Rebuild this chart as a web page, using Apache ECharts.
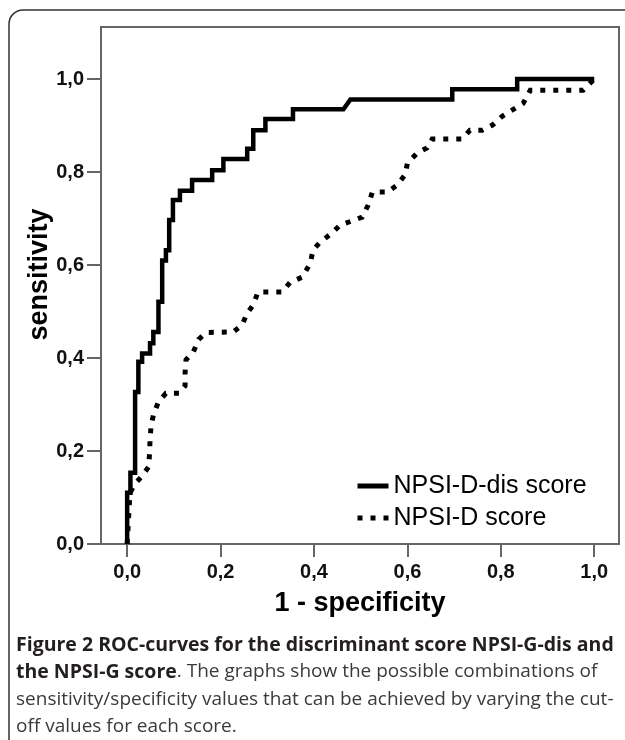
<!DOCTYPE html>
<html>
<head>
<meta charset="utf-8">
<script src="https://cdn.jsdelivr.net/npm/echarts@6.0.0/dist/echarts.min.js"></script>
<style>
html, body { margin: 0; padding: 0; background: #fff; }
#chart { width: 625px; height: 740px; }
</style>
</head>
<body>
<div id="chart"></div>
<script>
// series names (legend)
var seriesNames = ['NPSI-D-dis score', 'NPSI-D score'];

// NPSI-D-dis score: 1 - specificity / sensitivity
var disFpr = [0, 0, 0.007, 0.007, 0.017, 0.017, 0.024, 0.024, 0.032, 0.032, 0.049, 0.049, 0.056, 0.056,
    0.067, 0.067, 0.075, 0.075, 0.083, 0.083, 0.09, 0.09, 0.098, 0.098, 0.113, 0.113, 0.139, 0.139,
    0.182, 0.182, 0.206, 0.206, 0.257, 0.257, 0.27, 0.27, 0.296, 0.296, 0.355, 0.355, 0.463, 0.478,
    0.696, 0.696, 0.835, 0.835, 1.0];
var disTpr = [0, 0.11, 0.11, 0.153, 0.153, 0.327, 0.327, 0.392, 0.392, 0.41, 0.41, 0.432, 0.432, 0.456,
    0.456, 0.521, 0.521, 0.61, 0.61, 0.632, 0.632, 0.697, 0.697, 0.74, 0.74, 0.76, 0.76, 0.783,
    0.783, 0.804, 0.804, 0.828, 0.828, 0.85, 0.85, 0.89, 0.89, 0.914, 0.914, 0.935, 0.935, 0.956,
    0.956, 0.978, 0.978, 1.0, 1.0];

// NPSI-D score
var scoreFpr = [0, 0.006, 0.017, 0.031, 0.046, 0.048, 0.049, 0.051, 0.056, 0.067, 0.083, 0.111, 0.124,
    0.124, 0.126, 0.142, 0.153, 0.169, 0.227, 0.246, 0.257, 0.27, 0.28, 0.332, 0.349, 0.375, 0.392,
    0.398, 0.413, 0.439, 0.456, 0.482, 0.503, 0.516, 0.525, 0.557, 0.578, 0.595, 0.6, 0.621, 0.642,
    0.653, 0.717, 0.734, 0.76, 0.782, 0.803, 0.824, 0.848, 0.863, 0.976, 1.0];
var scoreTpr = [0, 0.11, 0.13, 0.145, 0.166, 0.196, 0.224, 0.252, 0.277, 0.306, 0.324, 0.324, 0.34,
    0.368, 0.396, 0.414, 0.44, 0.455, 0.456, 0.471, 0.497, 0.514, 0.542, 0.542, 0.563, 0.574, 0.604,
    0.632, 0.649, 0.669, 0.686, 0.695, 0.703, 0.729, 0.757, 0.757, 0.772, 0.794, 0.819, 0.841, 0.852,
    0.871, 0.871, 0.89, 0.89, 0.901, 0.92, 0.933, 0.948, 0.976, 0.976, 1.0];

// tick labels
var tickValues = [0, 0.2, 0.4, 0.6, 0.8, 1.0];

function pairs(xs, ys) {
    return xs.map(function (x, i) { return [x, ys[i]]; });
}
function fmtTick(v) {
    return v.toFixed(1).replace('.', ',');
}

var axisFont = '"Liberation Sans", Arial, sans-serif';
var capFont = '"Open Sans", "Noto Sans", sans-serif';
var dotDash = [5, 8];

var chart = echarts.init(document.getElementById('chart'));
chart.setOption({
    animation: false,
    backgroundColor: '#fff',
    grid: {
        left: 101, top: 27, right: 6, bottom: 196,
        show: true, borderColor: '#666', borderWidth: 2
    },
    xAxis: {
        type: 'value', min: -0.056, max: 1.053,
        name: '1 - specificity', nameLocation: 'middle', nameGap: 46,
        nameTextStyle: { fontFamily: axisFont, fontWeight: 'bold', fontSize: 27, color: '#000' },
        axisLine: { show: true, onZero: false, lineStyle: { color: '#666', width: 2 } },
        axisTick: { show: true, length: 13, customValues: tickValues, lineStyle: { color: '#666', width: 2 } },
        axisLabel: {
            customValues: tickValues, margin: 18, formatter: fmtTick,
            fontFamily: axisFont, fontWeight: 'bold', fontSize: 20, color: '#111'
        },
        splitLine: { show: false }
    },
    yAxis: {
        type: 'value', min: 0, max: 1.112,
        name: 'sensitivity', nameLocation: 'middle', nameGap: 48, nameRotate: 90,
        nameMoveOverlap: false,
        nameTextStyle: {
            fontFamily: axisFont, fontWeight: 'bold', fontSize: 27, color: '#000',
            padding: [0, 0, 0, 22]
        },
        axisLine: { show: true, onZero: false, lineStyle: { color: '#666', width: 2 } },
        axisTick: { show: true, length: 14, customValues: tickValues, lineStyle: { color: '#666', width: 2 } },
        axisLabel: {
            customValues: tickValues, margin: 17, formatter: fmtTick,
            fontFamily: axisFont, fontWeight: 'bold', fontSize: 20, color: '#111'
        },
        splitLine: { show: false }
    },
    legend: {
        orient: 'vertical', left: 350, top: 468,
        itemWidth: 31, itemHeight: 14, itemGap: 6,
        itemStyle: { opacity: 0 },
        textStyle: { fontFamily: axisFont, fontSize: 25, color: '#000', lineHeight: 26 },
        data: [
            { name: seriesNames[0], lineStyle: { type: 'solid', width: 5, color: '#000' } },
            { name: seriesNames[1], lineStyle: { type: dotDash, width: 5, color: '#000' } }
        ]
    },
    series: [{
        name: seriesNames[1],
        type: 'line',
        symbol: 'none',
        data: pairs(scoreFpr, scoreTpr),
        itemStyle: { color: '#000' },
        lineStyle: { color: '#000', width: 5, type: dotDash, cap: 'butt', join: 'miter' }
    }, {
        name: seriesNames[0],
        type: 'line',
        symbol: 'none',
        data: pairs(disFpr, disTpr),
        itemStyle: { color: '#000' },
        lineStyle: { color: '#000', width: 4.5, type: 'solid', cap: 'butt', join: 'miter' }
    }],
    graphic: [
        {   // outer figure frame
            type: 'rect', silent: true,
            shape: { x: 9, y: 10, width: 720, height: 800, r: 14 },
            style: { fill: null, stroke: '#333', lineWidth: 1.5 }
        },
        {
            type: 'text', x: 16, y: 645,
            style: {
                text: 'Figure 2 ROC-curves for the discriminant score NPSI-G-dis and',
                font: 'bold 19.5px ' + capFont, fill: '#231f20', verticalAlign: 'middle'
            }
        },
        {
            type: 'text', x: 16, y: 672,
            style: {
                text: '{b|the NPSI-G score}{n|. The graphs show the possible combinations of}',
                verticalAlign: 'middle',
                rich: {
                    b: { fontFamily: capFont, fontWeight: 'bold', fontSize: 19.5, fill: '#231f20' },
                    n: { fontFamily: capFont, fontSize: 19, fill: '#3a3a3a' }
                }
            }
        },
        {
            type: 'text', x: 16, y: 700,
            style: {
                text: 'sensitivity/specificity values that can be achieved by varying the cut-',
                font: '19px ' + capFont, fill: '#3a3a3a', verticalAlign: 'middle'
            }
        },
        {
            type: 'text', x: 16, y: 727,
            style: {
                text: 'off values for each score.',
                font: '19px ' + capFont, fill: '#3a3a3a', verticalAlign: 'middle'
            }
        }
    ]
});
</script>
</body>
</html>
